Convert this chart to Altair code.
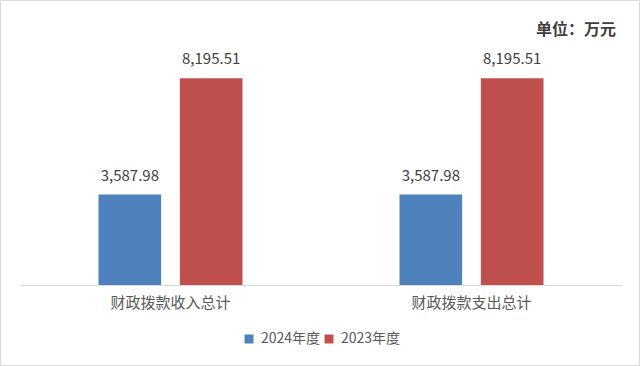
import altair as alt
import pandas as pd

categories = ["财政拨款收入总计", "财政拨款支出总计"]
years = ["2024年度", "2023年度"]
values_2024 = [3587.98, 3587.98]
values_2023 = [8195.51, 8195.51]
colors = ["#4F81BD", "#C0504D"]
unit_text = "单位：万元"

rows = []
for i, c in enumerate(categories):
    rows.append({"cat": c, "year": years[0], "value": values_2024[i]})
    rows.append({"cat": c, "year": years[1], "value": values_2023[i]})
df = pd.DataFrame(rows)

FONT = "Noto Sans CJK SC"

x = alt.X(
    "cat:N", sort=categories,
    scale=alt.Scale(paddingInner=0.5216, paddingOuter=0.2608),
    axis=alt.Axis(title=None, labelAngle=0, ticks=False, domainColor="#d9d9d9",
                  labelFontSize=15, labelColor="#595959", labelPadding=10,
                  labelFont=FONT),
)
xo = alt.XOffset("year:N", sort=years, scale=alt.Scale(paddingInner=0.23, paddingOuter=0))
y = alt.Y("value:Q", scale=alt.Scale(domain=[0, 9000]), axis=None)

base = alt.Chart(df).encode(x=x, xOffset=xo, y=y)

bars = base.mark_bar().encode(
    color=alt.Color(
        "year:N", sort=years,
        scale=alt.Scale(domain=years, range=colors),
        legend=alt.Legend(
            orient="none", legendX=222, legendY=274, direction="horizontal",
            title=None, symbolType="square", symbolSize=81, symbolStrokeWidth=0,
            labelFontSize=14, labelColor="#595959", labelFont=FONT,
            columnPadding=1, labelOffset=5,
        ),
    )
)

labels = base.mark_text(
    dy=-11, baseline="bottom", fontSize=15, color="#404040", font=FONT
).encode(text=alt.Text("value:Q", format=",.2f"))

dummy = pd.DataFrame({"a": [0]})
frame = alt.Chart(dummy).mark_rect(fillOpacity=0, stroke="#d9d9d9", strokeWidth=1).encode(
    x=alt.value(-19.5), x2=alt.value(619.5), y=alt.value(-57.5), y2=alt.value(307.5)
)
unit = alt.Chart(dummy).mark_text(
    align="right", baseline="middle", fontSize=16, fontWeight="bold",
    color="#404040", font=FONT
).encode(x=alt.value(596), y=alt.value(-28), text=alt.value(unit_text))

chart = alt.layer(frame, bars, labels, unit).properties(
    width=602, height=227,
    padding={"left": 20, "top": 58, "right": 18, "bottom": 81},
    autosize=alt.AutoSizeParams(type="none"),
    background="white",
).configure_view(strokeWidth=0)

chart.save("out.html", embed_options={"renderer": "svg", "actions": False})
